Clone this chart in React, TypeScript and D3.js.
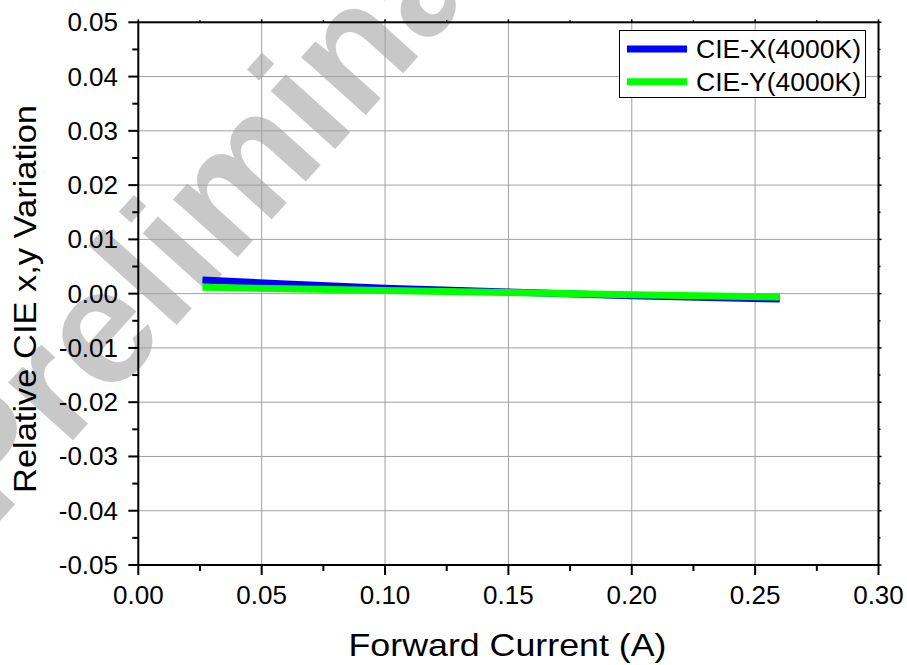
import React from "react";
import * as d3 from "d3";

const currents = [0.026, 0.06, 0.1, 0.15, 0.2, 0.26];
const cieX = [0.0025, 0.0018, 0.001, 0.0003, -0.0004, -0.001];
const cieY = [0.0012, 0.0009, 0.0006, 0.0002, -0.0002, -0.0006];
const seriesNames = ["CIE-X(4000K)", "CIE-Y(4000K)"];
const seriesColors = ["#0000ff", "#00ff00"];
const xTicks = [0, 0.05, 0.1, 0.15, 0.2, 0.25, 0.3];
const yTicks = [-0.05, -0.04, -0.03, -0.02, -0.01, 0, 0.01, 0.02, 0.03, 0.04, 0.05];
const xMinor = [0.025, 0.075, 0.125, 0.175, 0.225, 0.275];
const yMinor = [-0.045, -0.035, -0.025, -0.015, -0.005, 0.005, 0.015, 0.025, 0.035, 0.045];

const W = 907, H = 665;
const L = 138.3, R = 878.5, T = 22.3, B = 565;
const FONT = "'Liberation Sans', Arial, sans-serif";

export default function App() {
  const x = d3.scaleLinear().domain([0, 0.3]).range([L, R]);
  const y = d3.scaleLinear().domain([-0.05, 0.05]).range([B, T]);
  const line = d3.line<[number, number]>().x(d => x(d[0])).y(d => y(d[1]));
  const series = [cieX, cieY].map(vals => currents.map((c, i) => [c, vals[i]] as [number, number]));

  return (
    <svg width={W} height={H} style={{ position: "absolute", left: 0, top: 0, background: "#fff" }} fontFamily={FONT}>
      <rect width={W} height={H} fill="#fff" />
      {/* watermark */}
      <text transform="translate(-8,530) rotate(-48)" fontSize={164} fontWeight="bold" fill="#c8c8c8">Preliminary</text>
      {/* grid */}
      {xTicks.filter(t => t > 0 && t < 0.3).map(t => (
        <line key={"gx" + t} x1={x(t)} x2={x(t)} y1={T} y2={B} stroke="#a0a0a0" strokeWidth={1} />
      ))}
      {yTicks.filter(t => t > -0.05 && t < 0.05).map(t => (
        <line key={"gy" + t} x1={L} x2={R} y1={y(t)} y2={y(t)} stroke="#a0a0a0" strokeWidth={1} />
      ))}
      {/* data */}
      {series.map((s, i) => (
        <path key={i} d={line(s) || ""} fill="none" stroke={seriesColors[i]} strokeWidth={7} />
      ))}
      {/* axes frame */}
      <rect x={L} y={T} width={R - L} height={B - T} fill="none" stroke="#000" strokeWidth={2} />
      {/* ticks */}
      {xTicks.map(t => (
        <g key={"xt" + t}>
          <line x1={x(t)} x2={x(t)} y1={B} y2={B + 10} stroke="#000" strokeWidth={2} />
          <line x1={x(t)} x2={x(t)} y1={T} y2={T - 3} stroke="#000" strokeWidth={1.5} />
          <text x={x(t)} y={604} textAnchor="middle" fontSize={26} fill="#000">{t.toFixed(2)}</text>
        </g>
      ))}
      {xMinor.map(t => (
        <g key={"xm" + t}>
          <line x1={x(t)} x2={x(t)} y1={B} y2={B + 6} stroke="#000" strokeWidth={2} />
          <line x1={x(t)} x2={x(t)} y1={T} y2={T - 2} stroke="#000" strokeWidth={1.5} />
        </g>
      ))}
      {yTicks.map(t => (
        <g key={"yt" + t}>
          <line x1={L} x2={L - 10} y1={y(t)} y2={y(t)} stroke="#000" strokeWidth={2} />
          <line x1={R} x2={R + 3} y1={y(t)} y2={y(t)} stroke="#000" strokeWidth={1.5} />
          <text x={118} y={y(t) + 9} textAnchor="end" fontSize={26} fill="#000">{t.toFixed(2)}</text>
        </g>
      ))}
      {yMinor.map(t => (
        <g key={"ym" + t}>
          <line x1={L} x2={L - 6} y1={y(t)} y2={y(t)} stroke="#000" strokeWidth={2} />
          <line x1={R} x2={R + 2} y1={y(t)} y2={y(t)} stroke="#000" strokeWidth={1.5} />
        </g>
      ))}
      {/* axis titles */}
      <text x={507.5} y={656} textAnchor="middle" fontSize={32} textLength={318} lengthAdjust="spacingAndGlyphs" fill="#000">Forward Current (A)</text>
      <text transform="translate(36,299) rotate(-90)" textAnchor="middle" fontSize={32} textLength={388} lengthAdjust="spacingAndGlyphs" fill="#000">Relative CIE x,y Variation</text>
      {/* legend */}
      <rect x={619.5} y={30.5} width={246} height={67} fill="#fff" stroke="#000" strokeWidth={1} />
      {seriesNames.map((n, i) => (
        <g key={n}>
          <line x1={627} x2={687} y1={49 + i * 32.7} y2={49 + i * 32.7} stroke={seriesColors[i]} strokeWidth={7} />
          <text x={696} y={49 + i * 32.7 + 9} fontSize={25} textLength={165} lengthAdjust="spacingAndGlyphs" fill="#000">{n}</text>
        </g>
      ))}
    </svg>
  );
}
